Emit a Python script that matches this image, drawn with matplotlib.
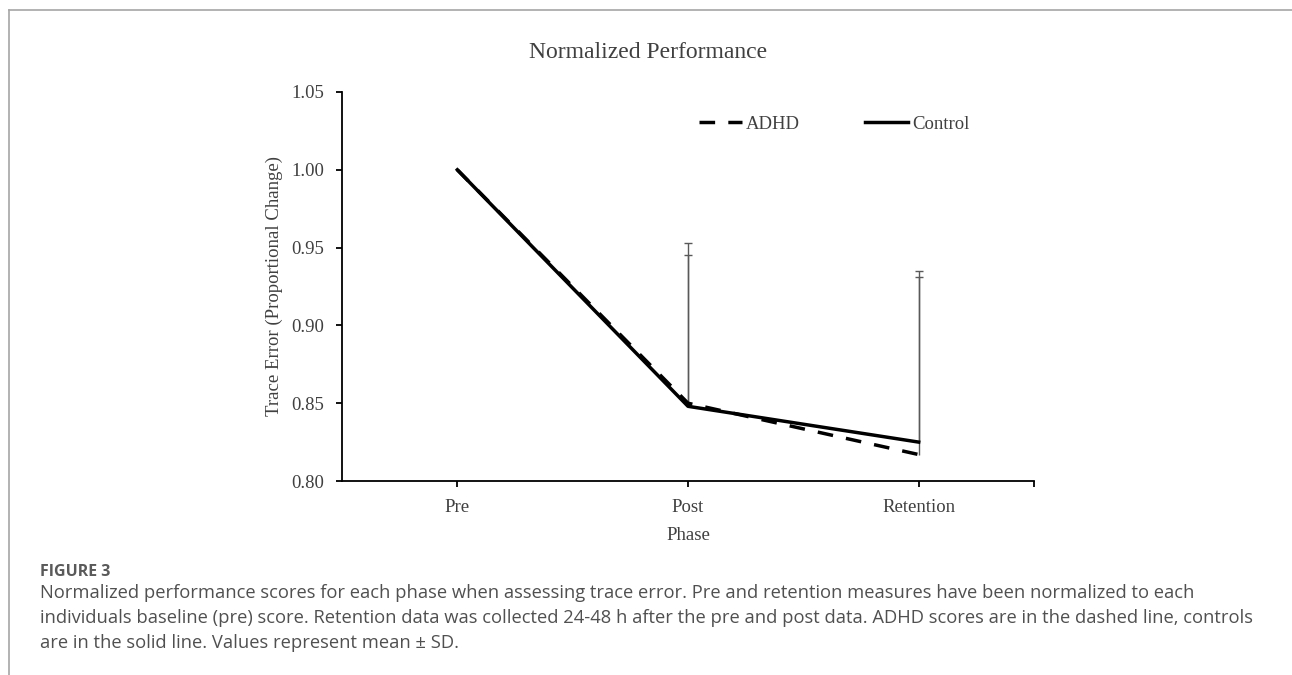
import matplotlib
matplotlib.use("Agg")
import matplotlib.pyplot as plt
from matplotlib.lines import Line2D

# ---- data ----
phases = ["Pre", "Post", "Retention"]
adhd = [1.000, 0.850, 0.817]
control = [1.000, 0.848, 0.825]
adhd_sd_upper = [0.0, 0.103, 0.114]
control_sd_upper = [0.0, 0.097, 0.110]
y_ticks = [0.80, 0.85, 0.90, 0.95, 1.00, 1.05]

title = "Normalized Performance"
ylabel = "Trace Error (Proportional Change)"
xlabel = "Phase"
caption_head = "FIGURE 3"
caption_lines = [
    "Normalized performance scores for each phase when assessing trace error. Pre and retention measures have been normalized to each",
    "individuals baseline (pre) score. Retention data was collected 24-48 h after the pre and post data. ADHD scores are in the dashed line, controls",
    "are in the solid line. Values represent mean \u00b1 SD.",
]

W, H = 1292, 675
fig = plt.figure(figsize=(W / 100, H / 100), dpi=100)
serif = "Liberation Serif"
txt_col = "#404040"

# outer frame lines (top and left)
fig.add_artist(Line2D([9 / W, 1], [1 - 10 / H, 1 - 10 / H], transform=fig.transFigure,
                      color="#a6a6a6", lw=1.2))
fig.add_artist(Line2D([9 / W, 9 / W], [0, 1 - 10 / H], transform=fig.transFigure,
                      color="#a6a6a6", lw=1.2))

ax = fig.add_axes([342 / W, 1 - 481 / H, (1034 - 342) / W, (481 - 92) / H])
x = list(range(len(phases)))

# error bars (plus only)
for vals, sd in ((adhd, adhd_sd_upper), (control, control_sd_upper)):
    xs = x[1:]
    ys = vals[1:]
    err = [[0] * len(xs), sd[1:]]
    eb = ax.errorbar(xs, ys, yerr=err, fmt="none", ecolor="#595959", elinewidth=1.0,
                     capsize=3.0, capthick=1.0, zorder=1)
    caps = eb[1]
    if len(caps) == 2:
        caps[0].set_visible(False)

ax.plot(x, adhd, color="black", lw=2.5, linestyle=(0, (4.5, 3.8)), label="ADHD", zorder=3)
ax.plot(x, control, color="black", lw=2.5, linestyle="-", label="Control", zorder=3)

ax.set_xlim(-0.5, 2.5)
ax.set_ylim(0.80, 1.05)
ax.set_yticks(y_ticks)
ax.set_yticklabels([f"{v:.2f}" for v in y_ticks])
ax.set_xticks(x + [2.5])
ax.set_xticklabels(phases + [""])

for s in ("top", "right"):
    ax.spines[s].set_visible(False)
for s in ("left", "bottom"):
    ax.spines[s].set_linewidth(1.3)
    ax.spines[s].set_color("black")
ax.tick_params(axis="both", direction="out", length=4, width=1.3, color="black",
               labelsize=13.5, labelcolor=txt_col, pad=9)
ax.tick_params(axis="x", pad=9)
for lab in ax.get_xticklabels() + ax.get_yticklabels():
    lab.set_fontfamily(serif)

ax.set_xlabel(xlabel, fontsize=13.5, family=serif, color=txt_col, labelpad=8)
ax.set_ylabel(ylabel, fontsize=13.5, family=serif, color=txt_col, labelpad=6)

fig.text(648 / W, 1 - 52 / H, title, ha="center", va="center", fontsize=17,
         family=serif, color=txt_col)

leg = ax.legend(loc="center", bbox_to_anchor=(834 / W, 1 - 124 / H),
                bbox_transform=fig.transFigure, ncol=2, frameon=False,
                handlelength=2.3, handletextpad=0.2, columnspacing=3.5,
                prop={"family": serif, "size": 13.5}, borderpad=0)
for t in leg.get_texts():
    t.set_color(txt_col)

# caption
fig.text(40 / W, 1 - 576 / H, caption_head, ha="left", va="baseline", fontsize=11.5,
         family="Open Sans", fontweight="bold", color="#5a5a5a")
for i, line in enumerate(caption_lines):
    fig.text(40 / W, 1 - (598 + 25 * i) / H, line, ha="left", va="baseline",
             fontsize=13.2, family="Open Sans", color="#505050")

fig.savefig("out.png", dpi=100)
